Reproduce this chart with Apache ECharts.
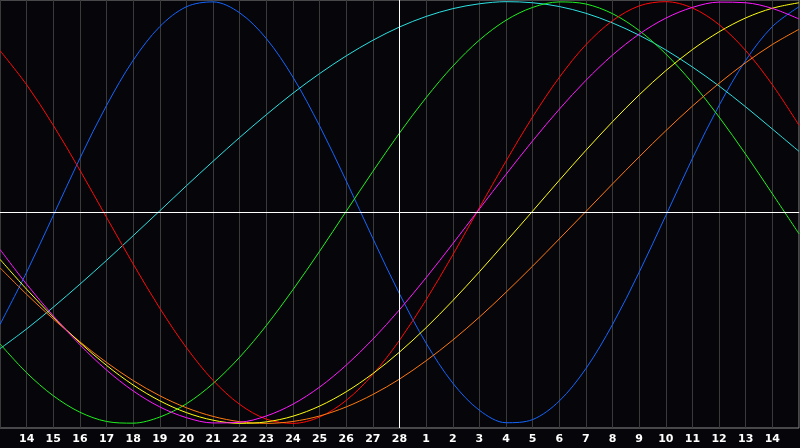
<!DOCTYPE html>
<html>
<head>
<meta charset="utf-8">
<script src="https://cdn.jsdelivr.net/npm/echarts@6/dist/echarts.min.js"></script>
<style>
html,body{margin:0;padding:0;background:#06050a;}
#chart{width:800px;height:448px;}
</style>
</head>
<body>
<div id="chart"></div>
<script>
const days = ['13','14','15','16','17','18','19','20','21','22','23','24','25','26','27','28',
  '1','2','3','4','5','6','7','8','9','10','11','12','13','14','15'];
const todayLabel = '28';

const blue = [-0.531,-0.283,-0.014,0.257,0.508,0.722,0.882,0.976,0.999,0.947,0.825,0.642,0.411,0.150,-0.123,-0.386,
  -0.620,-0.809,-0.938,-0.997,-0.982,-0.894,-0.740,-0.531,-0.283,-0.014,0.257,0.508,0.722,0.882,0.976];
const red = [0.768,0.606,0.414,0.201,-0.023,-0.244,-0.454,-0.641,-0.796,-0.910,-0.980,-1.000,-0.970,-0.891,-0.768,-0.606,
  -0.414,-0.201,0.023,0.244,0.454,0.641,0.796,0.910,0.980,1.000,0.970,0.891,0.768,0.606,0.414];
const green = [-0.623,-0.760,-0.869,-0.947,-0.991,-0.999,-0.970,-0.907,-0.811,-0.686,-0.536,-0.366,-0.184,0.006,0.195,0.377,
  0.545,0.694,0.818,0.912,0.973,0.999,0.989,0.943,0.863,0.752,0.614,0.453,0.276,0.089,-0.101];
const cyan = [-0.646,-0.552,-0.449,-0.340,-0.227,-0.110,0.008,0.127,0.243,0.356,0.464,0.566,0.659,0.743,0.817,0.880,
  0.930,0.967,0.990,1.000,0.995,0.977,0.945,0.899,0.841,0.771,0.690,0.600,0.501,0.396,0.290];
const magenta = [-0.175,-0.340,-0.490,-0.627,-0.747,-0.846,-0.922,-0.973,-0.998,-0.995,-0.965,-0.909,-0.828,-0.724,-0.601,-0.461,
  -0.309,-0.148,0.017,0.181,0.340,0.490,0.627,0.747,0.846,0.922,0.973,0.998,0.995,0.968,0.918];
const yellow = [-0.222,-0.364,-0.496,-0.617,-0.725,-0.818,-0.893,-0.949,-0.985,-1.000,-0.993,-0.966,-0.918,-0.850,-0.764,-0.662,
  -0.546,-0.418,-0.281,-0.138,0.007,0.153,0.295,0.431,0.558,0.673,0.773,0.857,0.923,0.969,0.995];
const orange = [-0.262,-0.388,-0.505,-0.613,-0.711,-0.797,-0.869,-0.926,-0.967,-0.992,-1.000,-0.991,-0.965,-0.922,-0.863,-0.790,
  -0.703,-0.605,-0.496,-0.378,-0.254,-0.125,0.005,0.136,0.264,0.388,0.505,0.613,0.711,0.797,0.869];

const curves = [
  {name:'blue', data:blue, color:'#1566ff'},
  {name:'cyan', data:cyan, color:'#2de2e2'},
  {name:'green', data:green, color:'#1ff01f'},
  {name:'red', data:red, color:'#ff0a0a'},
  {name:'orange', data:orange, color:'#ff7a10'},
  {name:'yellow', data:yellow, color:'#ffff10'},
  {name:'magenta', data:magenta, color:'#ff1aff'}
];

const chart = echarts.init(document.getElementById('chart'), null, {renderer:'canvas'});
const series = curves.map((c, i) => ({
  name: c.name,
  type: 'line',
  data: c.data,
  smooth: 0.33,
  symbol: 'none',
  silent: true,
  lineStyle: {color: c.color, width: 1},
  markLine: i === 0 ? {
    silent: true,
    symbol: 'none',
    label: {show: false},
    lineStyle: {color: '#ffffff', width: 1, type: 'solid'},
    data: [{yAxis: 0}, {xAxis: todayLabel}]
  } : undefined
}));

chart.setOption({
  animation: false,
  backgroundColor: '#06050a',
  grid: {left: 0, right: 1, top: 0, bottom: 20, show: true, borderColor: '#8a8a8a', borderWidth: 1, backgroundColor: 'transparent'},
  xAxis: {
    type: 'category',
    data: days,
    boundaryGap: false,
    axisLine: {show: true, lineStyle: {color: '#8f8f8f', width: 1}},
    axisTick: {show: false, interval: 0},
    splitLine: {show: true, interval: 0, lineStyle: {color: '#3a3a3a', width: 1}},
    axisLabel: {
      color: '#ffffff',
      fontFamily: 'DejaVu Sans',
      fontWeight: 'bold',
      fontSize: 11,
      margin: 6,
      interval: function (idx) { return idx > 0 && idx < days.length - 1; }
    }
  },
  yAxis: {
    type: 'value',
    min: -1.022,
    max: 1.008,
    show: false,
    splitLine: {show: false}
  },
  series: series
});
</script>
</body>
</html>
